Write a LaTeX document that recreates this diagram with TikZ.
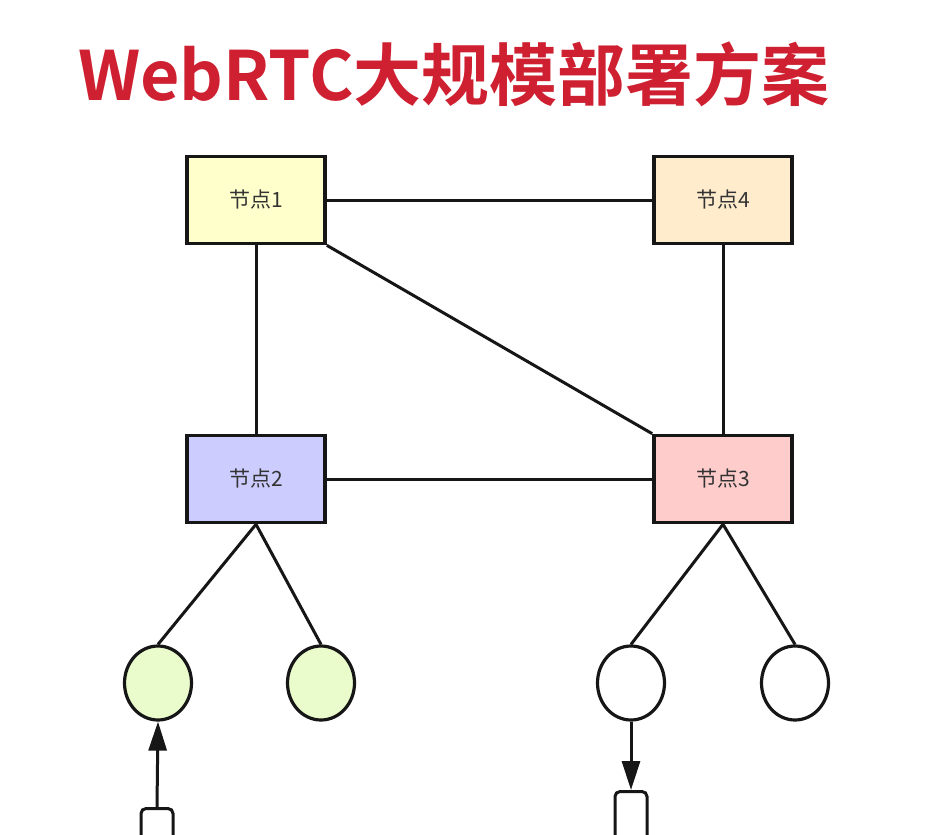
\documentclass[tikz,border=0pt]{standalone}
\usepackage{fontspec}
\setmainfont{Noto Sans CJK SC}
\newfontfamily\titlefont{Noto Sans CJK SC Bold}
\usetikzlibrary{arrows.meta,shapes.geometric}
\definecolor{titlered}{RGB}{206,32,48}
\definecolor{fyellow}{RGB}{255,255,204}
\definecolor{forange}{RGB}{255,236,204}
\definecolor{fblue}{RGB}{204,204,255}
\definecolor{fred}{RGB}{255,204,204}
\definecolor{fgreen}{RGB}{234,252,204}
\definecolor{edge}{RGB}{22,22,22}
\begin{document}
\begin{tikzpicture}[x=1pt,y=-1pt,
  nodebox/.style={draw=edge, line width=3.6pt, minimum width=138pt, minimum height=87pt, inner sep=0pt,
    font=\fontsize{21}{21}\selectfont, text=black!80},
  client/.style={ellipse, draw=edge, line width=3.2pt, minimum width=67pt, minimum height=74pt, inner sep=0pt},
  dev/.style={draw=edge, line width=3pt, rounded corners=5pt, minimum width=32pt, minimum height=80pt, inner sep=0pt, anchor=north},
  link/.style={draw=edge, line width=3pt},
  flow/.style={link, -{Triangle[length=29pt,width=18pt]}}]
\useasboundingbox (0,0) rectangle (932,835);
\fill[white] (0,0) rectangle (932,835);
\clip (0,0) rectangle (932,835);

\node[font=\titlefont\fontsize{68}{68}\selectfont, text=titlered] (title) at (454,74) {WebRTC大规模部署方案};

\node[nodebox, fill=fyellow] (n1) at (256,200) {节点1};
\node[nodebox, fill=forange] (n4) at (723,200) {节点4};
\node[nodebox, fill=fblue] (n2) at (256,479) {节点2};
\node[nodebox, fill=fred] (n3) at (723,479) {节点3};

\draw[link] (n1) -- (n4);
\draw[link] (n1) -- (n2);
\draw[link] (n4) -- (n3);
\draw[link] (n2) -- (n3);
\draw[link] (n1.south east) -- (n3.north west);

\node[client, fill=fgreen] (c1) at (158,683) {};
\node[client, fill=fgreen] (c2) at (321,683) {};
\node[client, fill=white] (c3) at (631,683) {};
\node[client, fill=white] (c4) at (795,683) {};

\draw[link] (n2.south) -- (c1.north);
\draw[link] (n2.south) -- (c2.north);
\draw[link] (n3.south) -- (c3.north);
\draw[link] (n3.south) -- (c4.north);

\node[dev] (d1) at (157,807) {};
\node[dev] (d2) at (631,790) {};

\draw[flow] (d1.north) -- (c1.south);
\draw[flow] (c3.south) -- (d2.north);
\end{tikzpicture}
\end{document}
